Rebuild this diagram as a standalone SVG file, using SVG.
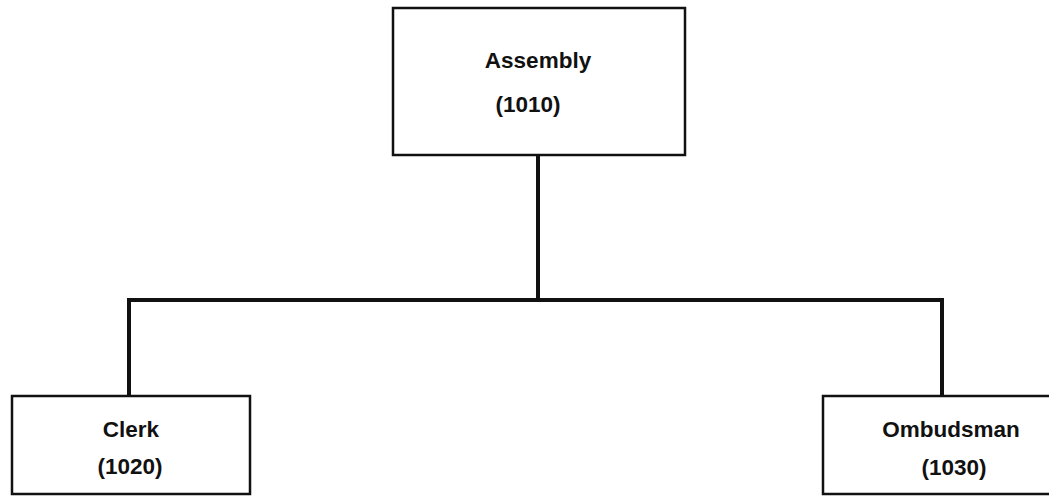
<svg xmlns="http://www.w3.org/2000/svg" width="1049" height="496" viewBox="0 0 1049 496">
<style>
.box{fill:#fff;stroke:#111;stroke-width:2.5}
.lbl{font-family:"Liberation Sans",Arial,sans-serif;font-weight:bold;font-size:22.5px;fill:#111;text-anchor:middle}
.conn{fill:none;stroke:#111;stroke-width:4;stroke-linejoin:miter}
</style>
<rect width="1049" height="496" fill="#fff"/>
<g id="connectors">
<path class="conn" d="M538 155 V300"/>
<path class="conn" d="M129 396 V300 H942 V396"/>
</g>
<g id="assembly">
<rect class="box" x="393" y="8" width="292" height="147"/>
<text class="lbl" x="538" y="68">Assembly</text>
<text class="lbl" x="528" y="112">(1010)</text>
</g>
<g id="clerk">
<rect class="box" x="12" y="396" width="238" height="98"/>
<text class="lbl" x="131" y="437">Clerk</text>
<text class="lbl" x="130" y="474">(1020)</text>
</g>
<g id="ombudsman">
<rect class="box" x="823" y="396" width="240" height="98"/>
<text class="lbl" x="951" y="437">Ombudsman</text>
<text class="lbl" x="954" y="475">(1030)</text>
</g>
</svg>
